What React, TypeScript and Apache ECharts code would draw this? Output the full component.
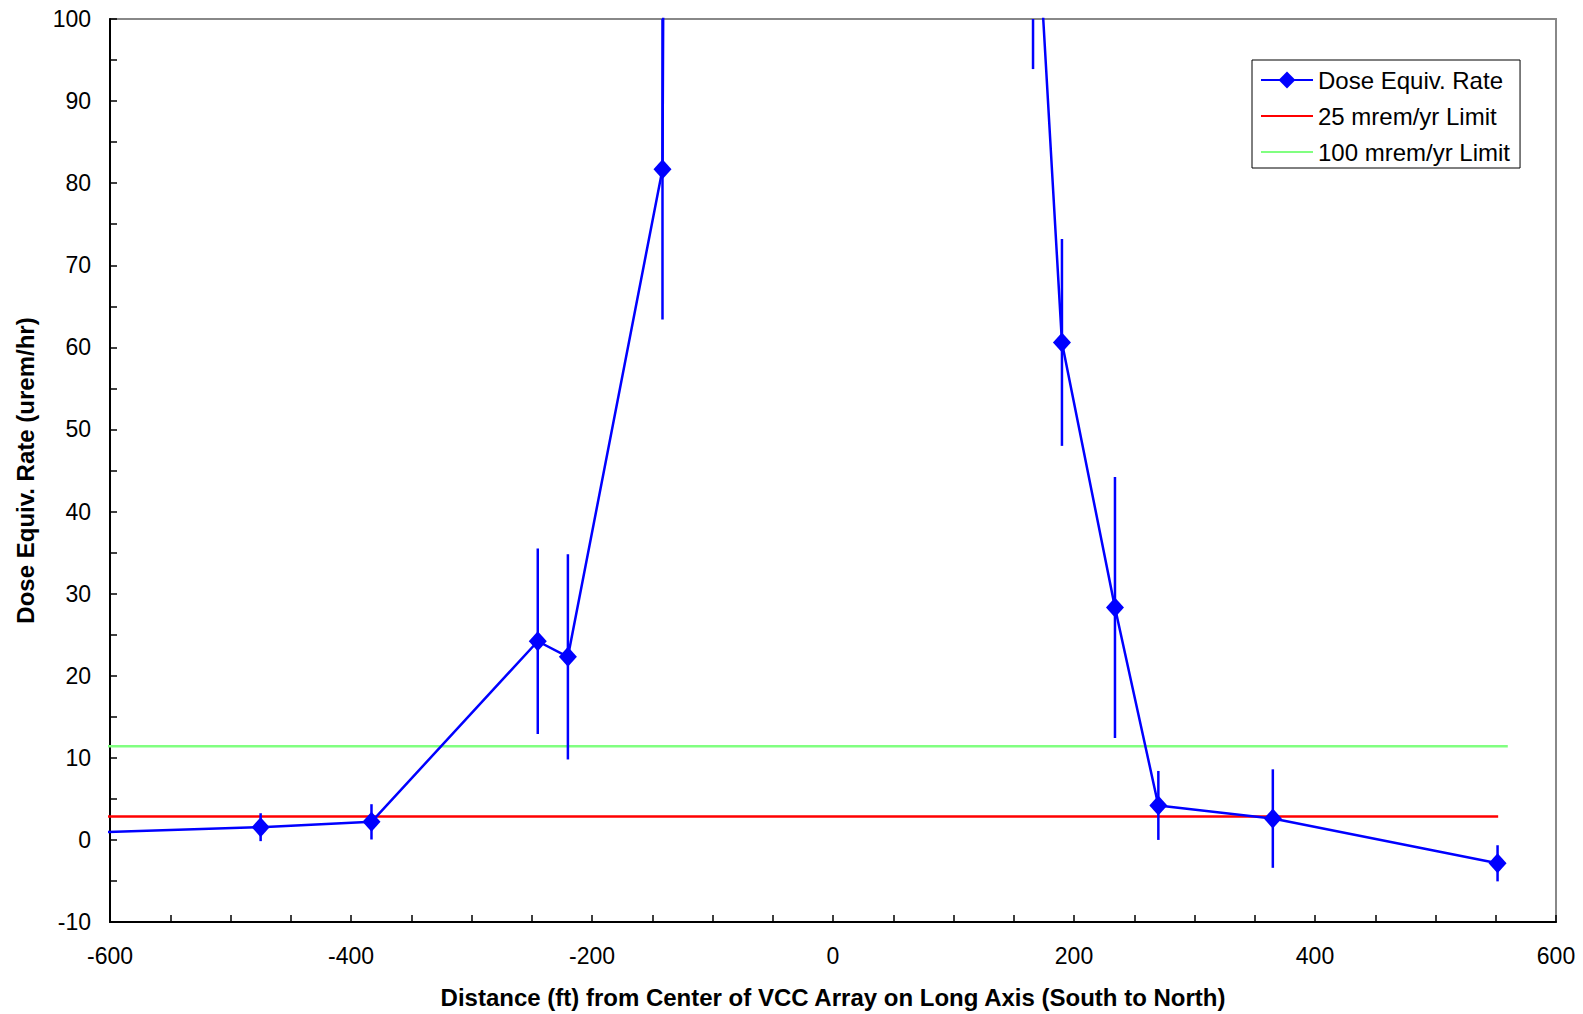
import React, { useEffect, useRef } from "react";
import * as echarts from "echarts";

// Dose equivalent rate measurements (ft, urem/hr, +/- error)
const doseX = [-700, -475, -383, -245, -220, -141.5, -130, 166, 190, 234, 270, 365, 551.5];
const doseY = [0.5, 1.55, 2.2, 24.2, 22.3, 81.7, 450, 121.5, 60.6, 28.3, 4.2, 2.6, -2.85];
const doseErr = [0.5, 1.7, 2.15, 11.3, 12.5, 18.3, 40, 27.6, 12.6, 15.9, 4.2, 6.0, 2.2];

// Limit lines (urem/hr)
const limit25X = [-610, 552];
const limit25Value = 2.85;
const limit100X = [-610, 560];
const limit100Value = 11.4;

const xRange = [-600, 600];
const yRange = [-10, 100];

const FONT = "'Liberation Sans', Arial, sans-serif";

export default function App() {
  const ref = useRef<HTMLDivElement>(null);

  useEffect(() => {
    if (!ref.current) return;
    const chart = echarts.init(ref.current, null, { renderer: "svg" });

    const doseData = doseX.map((x, i) => [x, doseY[i]]);
    const errData = doseX.map((x, i) => [x, doseY[i], doseErr[i]]);

    const option = {
      animation: false,
      backgroundColor: "#fff",
      textStyle: { fontFamily: FONT },
      grid: {
        show: true,
        left: 110,
        right: 27,
        top: 19,
        bottom: 91,
        borderColor: "#888",
        borderWidth: 2,
        backgroundColor: "transparent",
      },
      legend: {
        orient: "vertical",
        left: 1252,
        top: 60,
        padding: [8, 10, 4, 8],
        itemGap: 12,
        itemWidth: 52,
        itemHeight: 21,
        borderColor: "#000",
        borderWidth: 1,
        backgroundColor: "#fff",
        textStyle: { fontSize: 24, color: "#000", fontFamily: FONT },
        data: [
          { name: "Dose Equiv. Rate" },
          { name: "25 mrem/yr Limit", itemStyle: { opacity: 0 } },
          { name: "100 mrem/yr Limit", itemStyle: { opacity: 0 } },
        ],
      },
      xAxis: {
        type: "value",
        min: xRange[0],
        max: xRange[1],
        interval: 200,
        name: "Distance (ft) from Center of VCC Array on Long Axis (South to North)",
        nameLocation: "middle",
        nameGap: 63,
        nameTextStyle: { fontSize: 24, fontWeight: "bold", color: "#000", fontFamily: FONT },
        axisLine: { show: true, onZero: false, lineStyle: { color: "#000", width: 2 } },
        axisTick: { show: true, inside: true, length: 7, lineStyle: { color: "#000", width: 1.5 } },
        minorTick: { show: true, splitNumber: 4, length: 7, lineStyle: { color: "#000", width: 1.5 } },
        splitLine: { show: false },
        axisLabel: { fontSize: 23, color: "#000", margin: 22, fontFamily: FONT },
      },
      yAxis: {
        type: "value",
        min: yRange[0],
        max: yRange[1],
        interval: 10,
        name: "Dose Equiv. Rate (urem/hr)",
        nameLocation: "middle",
        nameGap: 73,
        nameTextStyle: { fontSize: 24, fontWeight: "bold", color: "#000", fontFamily: FONT },
        axisLine: { show: true, onZero: false, lineStyle: { color: "#000", width: 2 } },
        axisTick: { show: true, inside: true, length: 7, lineStyle: { color: "#000", width: 1.5 } },
        minorTick: { show: true, splitNumber: 2, length: 7, lineStyle: { color: "#000", width: 1.5 } },
        splitLine: { show: false },
        axisLabel: { fontSize: 23, color: "#000", margin: 19, fontFamily: FONT },
      },
      series: [
        {
          name: "25 mrem/yr Limit",
          type: "line",
          data: limit25X.map((x) => [x, limit25Value]),
          symbol: "none",
          clip: true,
          lineStyle: { color: "#FF0000", width: 2.5 },
          itemStyle: { color: "#FF0000" },
          z: 2,
        },
        {
          name: "100 mrem/yr Limit",
          type: "line",
          data: limit100X.map((x) => [x, limit100Value]),
          symbol: "none",
          clip: true,
          lineStyle: { color: "#80FF80", width: 2.5 },
          itemStyle: { color: "#80FF80" },
          z: 2,
        },
        {
          name: "errors",
          type: "custom",
          data: errData,
          z: 3,
          renderItem: (params: any, api: any) => {
            const x = api.value(0);
            const y = api.value(1);
            const e = api.value(2);
            if (x < xRange[0] || x > xRange[1]) return null;
            const lo = Math.max(yRange[0], y - e);
            const hi = Math.min(yRange[1], y + e);
            if (lo >= hi) return null;
            const p1 = api.coord([x, lo]);
            const p2 = api.coord([x, hi]);
            return {
              type: "line",
              shape: { x1: p1[0], y1: p1[1], x2: p2[0], y2: p2[1] },
              style: { stroke: "#0000FF", lineWidth: 2.5 },
            };
          },
        },
        {
          name: "Dose Equiv. Rate",
          type: "line",
          data: doseData,
          clip: true,
          symbol: "diamond",
          symbolSize: [18, 20],
          showAllSymbol: true,
          lineStyle: { color: "#0000FF", width: 2.5 },
          itemStyle: { color: "#0000FF" },
          z: 4,
        },
      ],
    };

    chart.setOption(option as any);
    return () => chart.dispose();
  }, []);

  return (
    <div
      ref={ref}
      style={{ position: "absolute", left: 0, top: 0, width: 1583, height: 1014 }}
    />
  );
}
